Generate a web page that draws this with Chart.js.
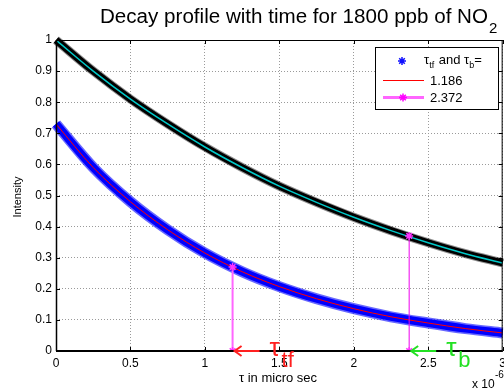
<!DOCTYPE html>
<html><head><meta charset="utf-8">
<script src="https://cdn.jsdelivr.net/npm/chart.js@4.4.1/dist/chart.umd.min.js"></script>
<style>html,body{margin:0;padding:0;background:#fff;overflow:hidden;width:504px;height:389px}canvas{display:block}</style>
</head><body>
<canvas id="c" width="511" height="389"></canvas>
<script>
// time axis (x 10^-6 s)
const timeMicroSec = [0, 0.25, 0.5, 0.75, 1, 1.25, 1.5, 1.75, 2, 2.25, 2.5, 2.75, 3];
// lower (fast, tau_tf) decay curve
const fastDecay = [0.73, 0.59, 0.48, 0.39, 0.315, 0.255, 0.207, 0.168, 0.136, 0.11, 0.09, 0.072, 0.058];
// upper (slow, tau_b) decay curve
const slowDecay = [1.0, 0.90, 0.81, 0.73, 0.656, 0.59, 0.53, 0.478, 0.43, 0.387, 0.348, 0.313, 0.283];
// marked decay times and the intensity where the markers meet the curves
const tauValues = [1.186, 2.372];
const tauLevels = [0.27, 0.37];
const legendLabels = ['1.186', '2.372'];
const titleText = 'Decay profile with time for 1800 ppb of NO';

const FONT = "'Liberation Sans', Arial, sans-serif";
Chart.defaults.font.family = FONT;
Chart.defaults.color = '#000';

const pts = (xs, ys) => xs.map((v, i) => ({x: v, y: ys[i]}));

function star(ctx, cx, cy, r) {
  ctx.beginPath();
  ctx.moveTo(cx - r, cy); ctx.lineTo(cx + r, cy);
  ctx.moveTo(cx, cy - r); ctx.lineTo(cx, cy + r);
  const d = r * 0.7;
  ctx.moveTo(cx - d, cy - d); ctx.lineTo(cx + d, cy + d);
  ctx.moveTo(cx - d, cy + d); ctx.lineTo(cx + d, cy - d);
  ctx.stroke();
}

const deco = {
  id: 'deco',
  afterDatasetsDraw(chart) {
    const {ctx, chartArea: a, scales: {x, y}} = chart;
    ctx.save();
    // box top/right
    ctx.strokeStyle = '#000'; ctx.lineWidth = 1;
    ctx.beginPath();
    ctx.moveTo(a.left, a.top + 0.5); ctx.lineTo(a.right, a.top + 0.5);
    ctx.moveTo(a.right - 0.5, a.top); ctx.lineTo(a.right - 0.5, a.bottom);
    ctx.stroke();
    // inward ticks
    ctx.lineWidth = 1;
    ctx.beginPath();
    x.ticks.forEach(t => {
      const px = Math.round(x.getPixelForValue(t.value)) + 0.5;
      ctx.moveTo(px, a.bottom); ctx.lineTo(px, a.bottom - 4);
      ctx.moveTo(px, a.top); ctx.lineTo(px, a.top + 4);
    });
    y.ticks.forEach(t => {
      const py = Math.round(y.getPixelForValue(t.value)) + 0.5;
      ctx.moveTo(a.left, py); ctx.lineTo(a.left + 4, py);
      ctx.moveTo(a.right, py); ctx.lineTo(a.right - 4, py);
    });
    ctx.stroke();
    // axis lines
    ctx.lineWidth = 2;
    ctx.beginPath();
    ctx.moveTo(a.left, a.bottom); ctx.lineTo(a.right, a.bottom);
    ctx.stroke();
    ctx.lineWidth = 1.5;
    ctx.beginPath();
    ctx.moveTo(a.left + 0.5, a.top); ctx.lineTo(a.left + 0.5, a.bottom);
    ctx.stroke();

    // arrows + tau labels
    const y0 = y.getPixelForValue(0);
    const arrows = [
      {v: tauValues[0], color: '#ff2020', main: 'τ', sub: 'tf'},
      {v: tauValues[1], color: '#22e022', main: 'τ', sub: 'b'}
    ];
    arrows.forEach(ar => {
      const tip = x.getPixelForValue(ar.v) + 2;
      const tail = tip + 25;
      ctx.strokeStyle = ar.color; ctx.lineWidth = 2;
      ctx.beginPath();
      ctx.moveTo(tail, y0); ctx.lineTo(tip, y0);
      ctx.moveTo(tip + 7, y0 - 5); ctx.lineTo(tip, y0); ctx.lineTo(tip + 7, y0 + 5);
      ctx.stroke();
      ctx.fillStyle = ar.color;
      ctx.font = '26px ' + FONT;
      ctx.textBaseline = 'alphabetic'; ctx.textAlign = 'left';
      ctx.fillText(ar.main, tail + 10, y0 + 5);
      ctx.font = '22px ' + FONT;
      ctx.fillText(ar.sub, tail + 22, y0 + 16);
    });
    ctx.restore();
  },
  afterDraw(chart) {
    const {ctx} = chart;
    ctx.save();
    ctx.fillStyle = '#000';
    ctx.textBaseline = 'alphabetic';
    // title
    ctx.font = '20px ' + FONT;
    ctx.textAlign = 'left';
    const tw = ctx.measureText(titleText).width;
    const tx = 100;
    ctx.save();
    ctx.translate(tx, 23);
    ctx.scale(388 / tw, 1);
    ctx.fillText(titleText, 0, 0);
    ctx.restore();
    ctx.font = '15px ' + FONT;
    ctx.fillText('2', tx + 389, 33);

    // x label
    ctx.font = '13px ' + FONT;
    ctx.textAlign = 'center';
    ctx.fillText('τ in micro sec', 278, 382);
    // exponent
    ctx.textAlign = 'left';
    ctx.font = '12px ' + FONT;
    ctx.fillText('x 10', 472, 388);
    ctx.font = '10px ' + FONT;
    ctx.fillText('-6', 495, 378);
    // y label
    ctx.save();
    ctx.translate(21, 197);
    ctx.rotate(-Math.PI / 2);
    ctx.textAlign = 'center';
    ctx.font = '11px ' + FONT;
    ctx.fillText('Intensity', 0, 0);
    ctx.restore();

    // legend
    const lx = 375, ly = 47, lw = 123, lh = 62;
    ctx.fillStyle = '#fff';
    ctx.fillRect(lx, ly, lw, lh);
    ctx.strokeStyle = '#000'; ctx.lineWidth = 1;
    ctx.strokeRect(lx + 0.5, ly + 0.5, lw, lh);
    // entry 1
    ctx.strokeStyle = '#1010ff'; ctx.lineWidth = 1.5;
    star(ctx, 402, 61, 4);
    ctx.fillStyle = '#000';
    ctx.font = '13px ' + FONT;
    let cx = 424;
    ctx.fillText('τ', cx, 64); cx += ctx.measureText('τ').width;
    ctx.font = '9px ' + FONT;
    ctx.fillText('tf', cx, 68); cx += ctx.measureText('tf').width + 1;
    ctx.font = '13px ' + FONT;
    ctx.fillText(' and τ', cx, 64); cx += ctx.measureText(' and τ').width;
    ctx.font = '9px ' + FONT;
    ctx.fillText('b', cx, 68); cx += ctx.measureText('b').width;
    ctx.font = '13px ' + FONT;
    ctx.fillText('=', cx, 64);
    // entry 2
    ctx.strokeStyle = '#ff0000'; ctx.lineWidth = 1;
    ctx.beginPath(); ctx.moveTo(383, 80.5); ctx.lineTo(424, 80.5); ctx.stroke();
    ctx.fillText(legendLabels[0], 430, 85);
    // entry 3
    ctx.strokeStyle = '#ff66ff'; ctx.lineWidth = 3;
    ctx.beginPath(); ctx.moveTo(383, 97.5); ctx.lineTo(424, 97.5); ctx.stroke();
    ctx.strokeStyle = '#ff00ff'; ctx.lineWidth = 1.5;
    star(ctx, 403, 97.5, 4);
    ctx.fillText(legendLabels[1], 430, 102);
    ctx.restore();
  }
};

new Chart(document.getElementById('c'), {
  type: 'line',
  data: {
    datasets: [
      {data: [{x: tauValues[0], y: 0}, {x: tauValues[0], y: tauLevels[0]}], borderColor: '#ff66ff', borderWidth: 2,
       pointStyle: 'star', pointRadius: 4, pointBorderColor: '#ff33ff', pointBorderWidth: 1.5, order: 1},
      {data: [{x: tauValues[1], y: 0}, {x: tauValues[1], y: tauLevels[1]}], borderColor: '#ee00ee', borderWidth: 1,
       pointStyle: 'star', pointRadius: 4, pointBorderColor: '#ff33ff', pointBorderWidth: 1.5, order: 1},
      {data: pts(timeMicroSec, fastDecay), borderColor: '#ff0000', borderWidth: 1, pointRadius: 0,
       cubicInterpolationMode: 'monotone', order: 2},
      {data: pts(timeMicroSec, slowDecay), borderColor: '#00c8c8', borderWidth: 1.5, pointRadius: 0,
       cubicInterpolationMode: 'monotone', order: 2},
      {data: pts(timeMicroSec, fastDecay), borderColor: '#0000ff', borderWidth: 8, pointRadius: 0,
       cubicInterpolationMode: 'monotone', order: 3, clip: false},
      {data: pts(timeMicroSec, fastDecay), borderColor: 'rgba(40,40,255,0.7)', borderWidth: 11, pointRadius: 0,
       cubicInterpolationMode: 'monotone', order: 4, clip: false},
      {data: pts(timeMicroSec, slowDecay), borderColor: '#000000', borderWidth: 7, pointRadius: 0,
       cubicInterpolationMode: 'monotone', order: 3, clip: false},
      {data: pts(timeMicroSec, slowDecay), borderColor: 'rgba(30,30,30,0.5)', borderWidth: 9, pointRadius: 0,
       cubicInterpolationMode: 'monotone', order: 4, clip: false}
    ]
  },
  options: {
    responsive: false,
    animation: false,
    events: [],
    layout: {padding: {top: 40, right: 0, left: 0, bottom: 0}},
    plugins: {legend: {display: false}, tooltip: {enabled: false}, title: {display: false}},
    scales: {
      x: {
        type: 'linear', min: 0, max: 3,
        ticks: {stepSize: 0.5, padding: 5, maxRotation: 0, font: {size: 12}, color: '#000',
          callback: v => String(Math.round(v * 10) / 10)},
        grid: {color: '#9a9a9a', lineWidth: 1, drawTicks: false},
        border: {display: false, dash: [1, 2]},
        afterFit: s => { s.height = 38; }
      },
      y: {
        type: 'linear', min: 0, max: 1,
        ticks: {stepSize: 0.1, padding: 4, font: {size: 12}, color: '#000',
          callback: v => String(Math.round(v * 10) / 10)},
        grid: {color: '#9a9a9a', lineWidth: 1, drawTicks: false},
        border: {display: false, dash: [1, 2]},
        afterFit: s => { s.width = 56; }
      }
    }
  },
  plugins: [deco]
});
</script>
</body></html>
